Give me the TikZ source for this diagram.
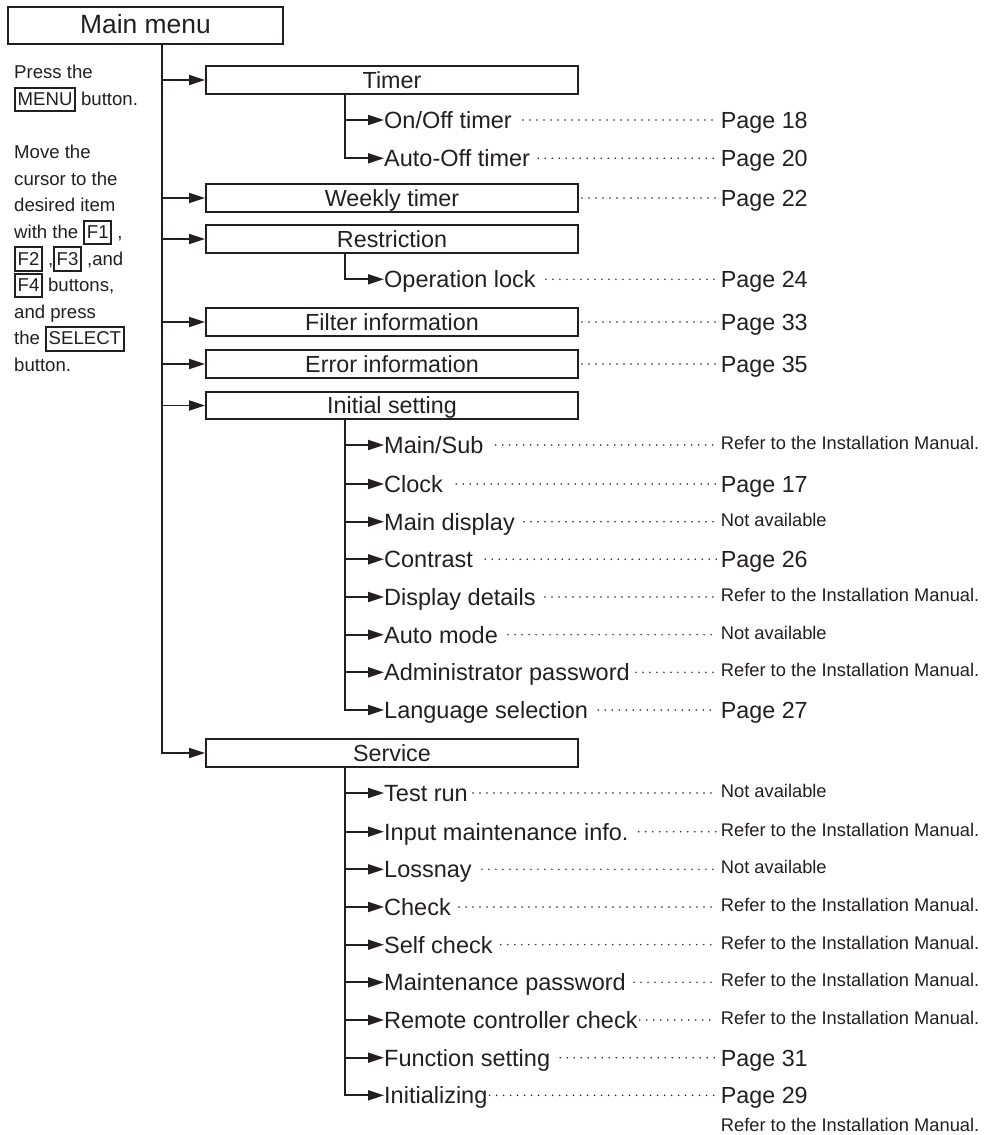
\documentclass[tikz,border=0pt]{standalone}
\usepackage{fontspec}
\setmainfont{Liberation Sans}
\usetikzlibrary{positioning,arrows.meta,calc}
\definecolor{ink}{RGB}{35,31,32}
\newcommand{\keybtn}[1]{{\setlength{\fboxrule}{2pt}\setlength{\fboxsep}{0pt}\fbox{\rule[-4.6pt]{0pt}{21.6pt}\hspace{1.5pt}#1\hspace{1.5pt}}}}
\tikzset{
    x=1pt,
    y=-1pt,
    topbox/.style = {
        draw,
        shape=rectangle,
        minimum height=37pt,
        minimum width=275pt,
        inner sep=0pt,
        text height=15.6pt,
        text depth=0pt,
        line width=2pt,
        font=\fontsize{26.4}{26.4}\selectfont
    },
    menubox/.style = {
        draw,
        shape=rectangle,
        minimum height=27.5pt,
        minimum width=372pt,
        inner sep=0pt,
        text height=16.7pt,
        text depth=0pt,
        line width=2pt,
        font=\fontsize{23.3}{23.3}\selectfont
    },
    item/.style = {
        anchor=west,
        inner sep=0pt,
        text height=16.8pt,
        text depth=0pt,
        font=\fontsize{23.5}{23.5}\selectfont
    },
    page/.style = {
        anchor=west,
        inner sep=0pt,
        text height=16.7pt,
        text depth=0pt,
        font=\fontsize{23.3}{23.3}\selectfont
    },
    info/.style = {
        anchor=west,
        inner sep=0pt,
        text height=9pt,
        text depth=0pt,
        font=\fontsize{18.3}{18.3}\selectfont
    },
    hint/.style = {
        align=left,
        inner sep=0pt,
        font=\fontsize{18.6}{26.6}\selectfont
    },
    link/.style = {line width=1.9pt},
    leader/.style = {line width=1.7pt, line cap=round, dash pattern=on 0pt off 7pt},
    >={Triangle[length=16pt,width=10pt]},
}

\begin{document}
\begin{tikzpicture}[color=ink]
    \useasboundingbox (0,0) rectangle (986,1135);

    % main menu and how to get there
    \node[topbox] (mainmenu) at (145.5,25.5) {Main menu};
    \node[hint, anchor=base west] (howto) at (14,371.5) {Press the\\
        \keybtn{MENU} button.\\[26.6pt]
        Move the\\
        cursor to the\\
        desired item\\
        with the \keybtn{F1} ,\\
        \keybtn{F2} ,\keybtn{F3} ,and\\
        \keybtn{F4} buttons,\\
        and press\\
        the \keybtn{SELECT}\\
        button.};
    \coordinate (trunk) at ([xshift=16.5pt]mainmenu.south);

    % first level
    \node[menubox] (timer) at (392,80) {Timer};
    \node[menubox] (weekly) at (392,198) {Weekly timer};
    \node[menubox] (restrict) at (392,239) {Restriction};
    \node[menubox] (filter) at (392,322) {Filter information};
    \node[menubox] (error) at (392,364) {Error information};
    \node[menubox] (initial) at (392,405.5) {Initial setting};
    \node[menubox] (service) at (392,753) {Service};

    \path[draw, link, ->] (trunk |- timer.west) -- (timer.west);
    \path[draw, link, ->] (trunk |- weekly.west) -- (weekly.west);
    \path[draw, link, ->] (trunk |- restrict.west) -- (restrict.west);
    \path[draw, link, ->] (trunk |- filter.west) -- (filter.west);
    \path[draw, link, ->] (trunk |- error.west) -- (error.west);
    \path[draw, link, ->] (trunk |- initial.west) -- (initial.west);
    \path[draw, link, ->] (trunk) |- (service.west);

    % timer
    \node[item] (onoff) at (384,120) {On/Off timer};
    \node[item] (autooff) at (384,158.3) {Auto-Off timer};
    \coordinate (timer-t) at ([xshift=-47pt]timer.south);
    \path[draw, link, ->] (timer-t |- onoff.west) -- (onoff.west);
    \path[draw, link, ->] (timer-t) |- (autooff.west);

    % restriction
    \node[item] (oplock) at (384,279.3) {Operation lock};
    \coordinate (restrict-t) at ([xshift=-47pt]restrict.south);
    \path[draw, link, ->] (restrict-t) |- (oplock.west);

    % initial setting
    \node[item] (mainsub) at (384,445) {Main/Sub};
    \node[item] (clock) at (384,484) {Clock};
    \node[item] (maindisp) at (384,521.7) {Main display};
    \node[item] (contrast) at (384,559.3) {Contrast};
    \node[item] (dispdet) at (384,597) {Display details};
    \node[item] (automode) at (384,634.7) {Auto mode};
    \node[item] (adminpw) at (384,672.3) {Administrator password};
    \node[item] (langsel) at (384,710) {Language selection};
    \coordinate (initial-t) at ([xshift=-47pt]initial.south);
    \path[draw, link, ->] (initial-t |- mainsub.west) -- (mainsub.west);
    \path[draw, link, ->] (initial-t |- clock.west) -- (clock.west);
    \path[draw, link, ->] (initial-t |- maindisp.west) -- (maindisp.west);
    \path[draw, link, ->] (initial-t |- contrast.west) -- (contrast.west);
    \path[draw, link, ->] (initial-t |- dispdet.west) -- (dispdet.west);
    \path[draw, link, ->] (initial-t |- automode.west) -- (automode.west);
    \path[draw, link, ->] (initial-t |- adminpw.west) -- (adminpw.west);
    \path[draw, link, ->] (initial-t) |- (langsel.west);

    % service
    \node[item] (testrun) at (384,793) {Test run};
    \node[item] (inputinfo) at (384,831.7) {Input maintenance info.};
    \node[item] (lossnay) at (384,869.3) {Lossnay};
    \node[item] (check) at (384,907) {Check};
    \node[item] (selfcheck) at (384,944.7) {Self check};
    \node[item] (maintpw) at (384,982.3) {Maintenance password};
    \node[item] (remote) at (384,1020) {Remote controller check};
    \node[item] (funcset) at (384,1057.7) {Function setting};
    \node[item] (initz) at (384,1095.3) {Initializing};
    \coordinate (service-t) at ([xshift=-47pt]service.south);
    \path[draw, link, ->] (service-t |- testrun.west) -- (testrun.west);
    \path[draw, link, ->] (service-t |- inputinfo.west) -- (inputinfo.west);
    \path[draw, link, ->] (service-t |- lossnay.west) -- (lossnay.west);
    \path[draw, link, ->] (service-t |- check.west) -- (check.west);
    \path[draw, link, ->] (service-t |- selfcheck.west) -- (selfcheck.west);
    \path[draw, link, ->] (service-t |- maintpw.west) -- (maintpw.west);
    \path[draw, link, ->] (service-t |- remote.west) -- (remote.west);
    \path[draw, link, ->] (service-t |- funcset.west) -- (funcset.west);
    \path[draw, link, ->] (service-t) |- (initz.west);

    % page references
    \node[page] (pg-onoff) at (720.7,120) {Page 18};
    \node[page] (pg-autooff) at (720.7,158.3) {Page 20};
    \node[page] (pg-weekly) at (720.7,198) {Page 22};
    \node[page] (pg-oplock) at (720.7,279.3) {Page 24};
    \node[page] (pg-filter) at (720.7,322) {Page 33};
    \node[page] (pg-error) at (720.7,364) {Page 35};
    \node[info] (pg-mainsub) at (720.7,445) {Refer to the Installation Manual.};
    \node[page] (pg-clock) at (720.7,484) {Page 17};
    \node[info] (pg-maindisp) at (720.7,521.7) {Not available};
    \node[page] (pg-contrast) at (720.7,559.3) {Page 26};
    \node[info] (pg-dispdet) at (720.7,597) {Refer to the Installation Manual.};
    \node[info] (pg-automode) at (720.7,634.7) {Not available};
    \node[info] (pg-adminpw) at (720.7,672.3) {Refer to the Installation Manual.};
    \node[page] (pg-langsel) at (720.7,710) {Page 27};
    \node[info] (pg-testrun) at (720.7,793) {Not available};
    \node[info] (pg-inputinfo) at (720.7,831.7) {Refer to the Installation Manual.};
    \node[info] (pg-lossnay) at (720.7,869.3) {Not available};
    \node[info] (pg-check) at (720.7,907) {Refer to the Installation Manual.};
    \node[info] (pg-selfcheck) at (720.7,944.7) {Refer to the Installation Manual.};
    \node[info] (pg-maintpw) at (720.7,982.3) {Refer to the Installation Manual.};
    \node[info] (pg-remote) at (720.7,1020) {Refer to the Installation Manual.};
    \node[page] (pg-funcset) at (720.7,1057.7) {Page 31};
    \node[page] (pg-initz) at (720.7,1095.3) {Page 29};
    \node[info, anchor=base west] (pg-initz2) at (720.7,1131.7) {Refer to the Installation Manual.};

    % leaders
    \path[draw, leader] ([xshift=11pt]onoff.east) -- ([xshift=-4pt]pg-onoff.west);
    \path[draw, leader] ([xshift=8pt]autooff.east) -- ([xshift=-4pt]pg-autooff.west);
    \path[draw, leader] ([xshift=3pt]weekly.east) -- ([xshift=-4pt]pg-weekly.west);
    \path[draw, leader] ([xshift=10pt]oplock.east) -- ([xshift=-4pt]pg-oplock.west);
    \path[draw, leader] ([xshift=3pt]filter.east) -- ([xshift=-4pt]pg-filter.west);
    \path[draw, leader] ([xshift=3pt]error.east) -- ([xshift=-4pt]pg-error.west);
    \path[draw, leader] ([xshift=12pt]mainsub.east) -- ([xshift=-4pt]pg-mainsub.west);
    \path[draw, leader] ([xshift=13pt]clock.east) -- ([xshift=-4pt]pg-clock.west);
    \path[draw, leader] ([xshift=9pt]maindisp.east) -- ([xshift=-4pt]pg-maindisp.west);
    \path[draw, leader] ([xshift=12pt]contrast.east) -- ([xshift=-4pt]pg-contrast.west);
    \path[draw, leader] ([xshift=9pt]dispdet.east) -- ([xshift=-4pt]pg-dispdet.west);
    \path[draw, leader] ([xshift=10pt]automode.east) -- ([xshift=-4pt]pg-automode.west);
    \path[draw, leader] ([xshift=6pt]adminpw.east) -- ([xshift=-4pt]pg-adminpw.west);
    \path[draw, leader] ([xshift=10pt]langsel.east) -- ([xshift=-4pt]pg-langsel.west);
    \path[draw, leader] ([xshift=5pt]testrun.east) -- ([xshift=-4pt]pg-testrun.west);
    \path[draw, leader] ([xshift=10pt]inputinfo.east) -- ([xshift=-4pt]pg-inputinfo.west);
    \path[draw, leader] ([xshift=10pt]lossnay.east) -- ([xshift=-4pt]pg-lossnay.west);
    \path[draw, leader] ([xshift=8pt]check.east) -- ([xshift=-4pt]pg-check.west);
    \path[draw, leader] ([xshift=8pt]selfcheck.east) -- ([xshift=-4pt]pg-selfcheck.west);
    \path[draw, leader] ([xshift=8pt]maintpw.east) -- ([xshift=-4pt]pg-maintpw.west);
    \path[draw, leader] ([xshift=2pt]remote.east) -- ([xshift=-4pt]pg-remote.west);
    \path[draw, leader] ([xshift=10pt]funcset.east) -- ([xshift=-4pt]pg-funcset.west);
    \path[draw, leader] ([xshift=2pt]initz.east) -- ([xshift=-4pt]pg-initz.west);
\end{tikzpicture}
\end{document}
